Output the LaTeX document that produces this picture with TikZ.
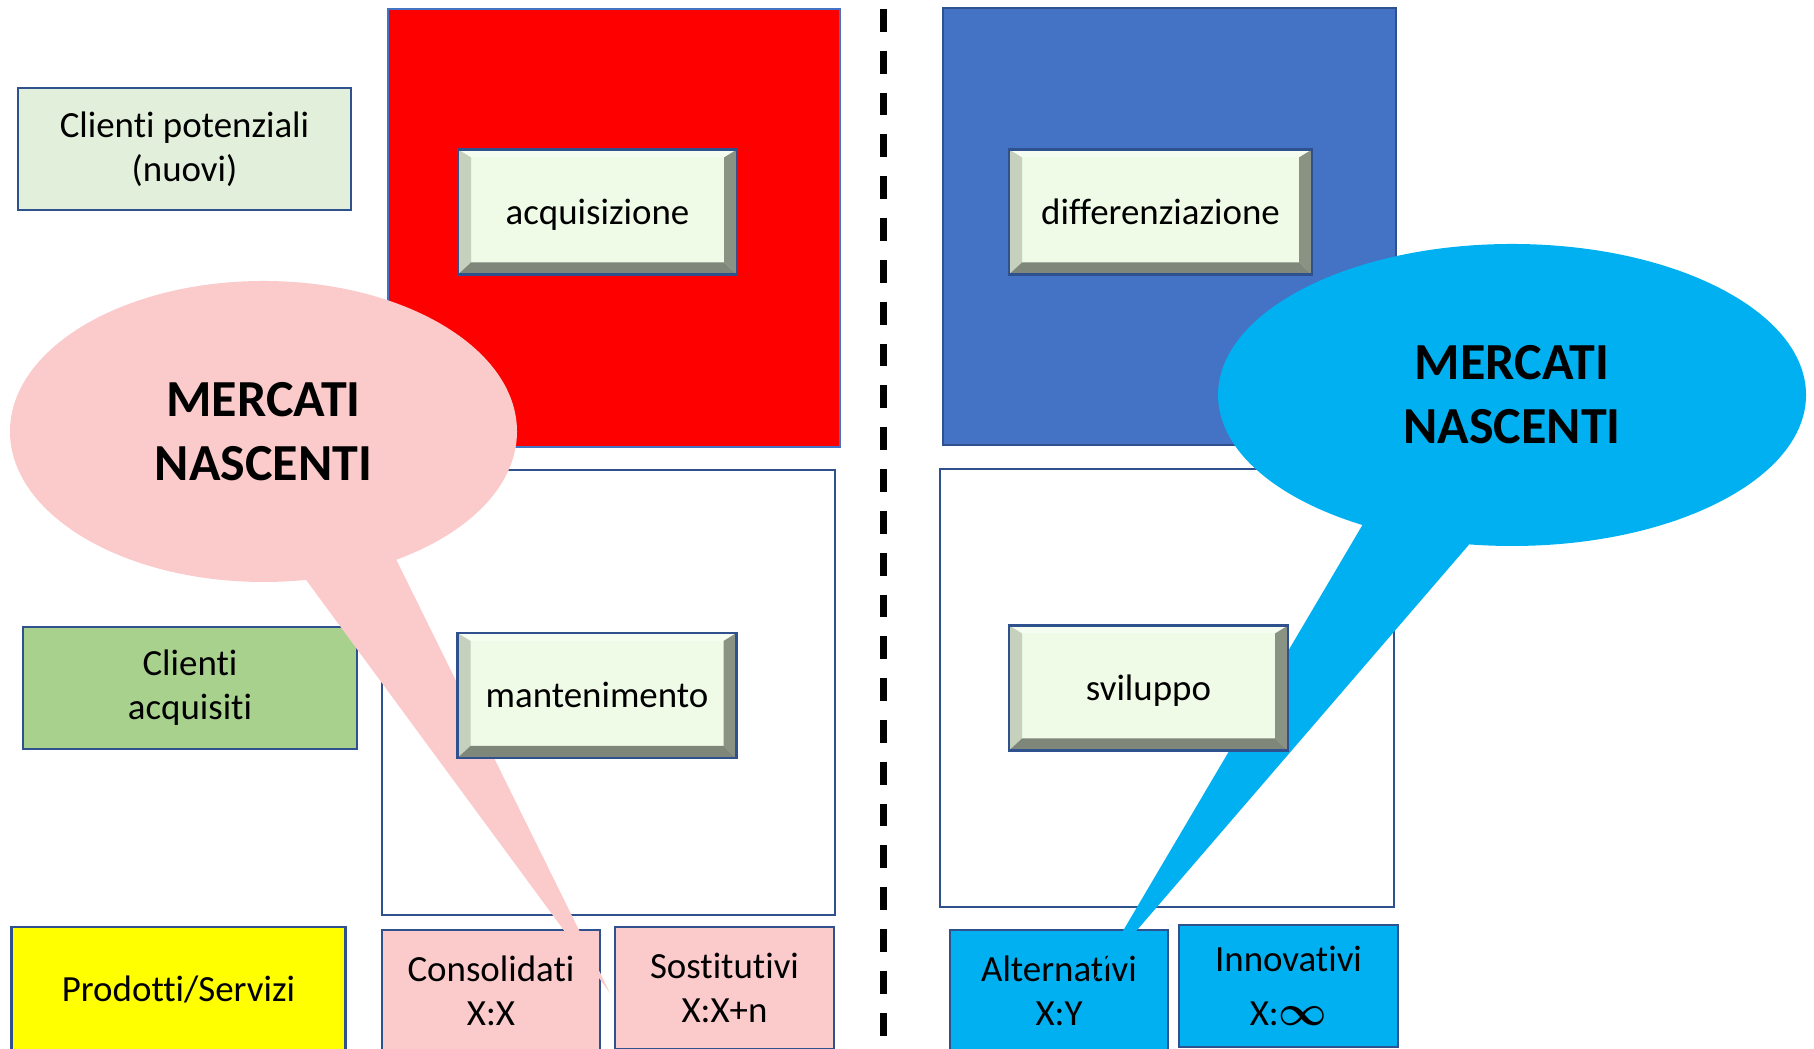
\documentclass[tikz,border=0pt]{standalone}
\usepackage{fontspec}
\setmainfont{Carlito}[Ligatures=NoCommon, Contextuals=NoAlternate]
\usetikzlibrary{shapes.geometric,calc}

\definecolor{bordo}{HTML}{2F528F}
\definecolor{bordochiaro}{HTML}{4472C4}
\definecolor{blu}{HTML}{4472C4}
\definecolor{rosso}{HTML}{FF0000}
\definecolor{verdino}{HTML}{E2EFDA}
\definecolor{verde}{HTML}{A9D18E}
\definecolor{giallo}{HTML}{FFFF00}
\definecolor{rosa}{HTML}{FBCACB}
\definecolor{azzurro}{HTML}{00B0F0}
\definecolor{facciata}{HTML}{EFFBE6}
\definecolor{smussosu}{HTML}{F5FCF0}
\definecolor{smussosx}{HTML}{C6D1BD}
\definecolor{smussodx}{HTML}{8A9283}
\definecolor{smussogiu}{HTML}{7F867A}

\tikzset{
	testo/.style={font=\fontsize{10.5pt}{12.5pt}\selectfont, align=center, inner sep=0pt},
	casella/.style={testo, draw=bordo, line width=0.8pt, rectangle},
	quadrante/.style={draw=bordo, line width=0.8pt, rectangle, inner sep=0pt},
	fumetto/.style={ellipse, inner sep=0pt, outer sep=0pt, align=center,
		font=\fontsize{14.8pt}{18.2pt}\selectfont\bfseries},
	pulsante/.style={testo, draw=bordo, line width=0.8pt, fill=facciata,
		minimum width=2.79cm, minimum height=1.25cm, text height=0.9em, text depth=0.2em,
		path picture={
			\coordinate (sw) at (path picture bounding box.south west);
			\coordinate (ne) at (path picture bounding box.north east);
			\coordinate (nw) at (sw|-ne);
			\coordinate (se) at (ne|-sw);
			\fill[smussosu] (nw) -- (ne) -- ($(ne)+(-0.13,-0.08)$) -- ($(nw)+(0.13,-0.08)$) -- cycle;
			\fill[smussosx] (nw) -- ($(nw)+(0.13,-0.08)$) -- ($(sw)+(0.13,0.12)$) -- (sw) -- cycle;
			\fill[smussodx] (ne) -- ($(ne)+(-0.13,-0.08)$) -- ($(se)+(-0.13,0.12)$) -- (se) -- cycle;
			\fill[smussogiu] (sw) -- ($(sw)+(0.13,0.12)$) -- ($(se)+(-0.13,0.12)$) -- (se) -- cycle;
		}}
}

\begin{document}
\begin{tikzpicture}
	\useasboundingbox (0,0) rectangle (18.14,10.49);
	
	%quadranti
	\node[quadrante, fill=rosso, draw=bordochiaro, minimum width=4.52cm, minimum height=4.38cm] (acq) at (6.14,8.21) {};
	\node[quadrante, fill=blu, minimum width=4.53cm, minimum height=4.37cm] (diff) at (11.695,8.225) {};
	\node[quadrante, minimum width=4.53cm, minimum height=4.45cm] (mant) at (6.085,3.565) {};
	\node[quadrante, minimum width=4.54cm, minimum height=4.38cm] (svil) at (11.67,3.61) {};
	
	%clienti
	\node[casella, fill=verdino, minimum width=3.33cm, minimum height=1.22cm] (potenziali) at (1.845,9.0) {Clienti potenziali\\(nuovi)};
	\node[casella, fill=verde, minimum width=3.34cm, minimum height=1.22cm] (acquisiti) at (1.90,3.61) {Clienti\\acquisiti};
	
	%prodotti
	\node[casella, fill=giallo, minimum width=3.34cm, minimum height=1.24cm] (prodotti) at (1.785,0.60) {Prodotti/Servizi};
	\node[casella, fill=rosa, minimum width=2.18cm, minimum height=1.22cm] (consolidati) at (4.91,0.58) {Consolidati\\X:X};
	\node[casella, fill=rosa, minimum width=2.19cm, minimum height=1.22cm] (sostitutivi) at (7.245,0.61) {Sostitutivi\\X:X+n};
	\node[casella, fill=azzurro, minimum width=2.18cm, minimum height=1.22cm] (alternativi) at (10.59,0.58) {Alternativi\\X:Y};
	\node[casella, fill=azzurro, minimum width=2.19cm, minimum height=1.22cm] (innovativi) at (12.885,0.63) {Innovativi\\[3pt]X:{\large\boldmath$\infty$}};
	
	%fumetti
	\node[fumetto, fill=rosa, minimum width=5.07cm, minimum height=3.01cm] (fRosa) at (2.635,6.175) {MERCATI\\NASCENTI};
	\coordinate (puntaRosa) at (6.10,0.56);
	\fill[rosa] (fRosa.-74) -- (puntaRosa) -- (fRosa.-44) -- cycle;
	
	\node[fumetto, fill=azzurro, minimum width=5.88cm, minimum height=3.02cm] (fAzz) at (15.12,6.54) {MERCATI\\NASCENTI};
	\coordinate (puntaAzz) at (10.94,0.69);
	\fill[azzurro] (fAzz.-139) -- (puntaAzz) -- (fAzz.-106) -- cycle;
	
	%pulsanti
	\node[pulsante] (bAcq) at (5.975,8.37) {acquisizione};
	\node[pulsante, minimum width=3.03cm] (bDiff) at (11.605,8.37) {differenziazione};
	\node[pulsante] (bMant) at (5.97,3.535) {mantenimento};
	\node[pulsante] (bSvil) at (11.485,3.61) {sviluppo};
	
	%separatore
	\coordinate (sopra) at (8.83,10.40);
	\coordinate (sotto) at (8.83,0.05);
	\draw[line width=2pt, dash pattern=on 6.5pt off 5.4pt] (sopra) -- (sotto);
	
\end{tikzpicture}
\end{document}
